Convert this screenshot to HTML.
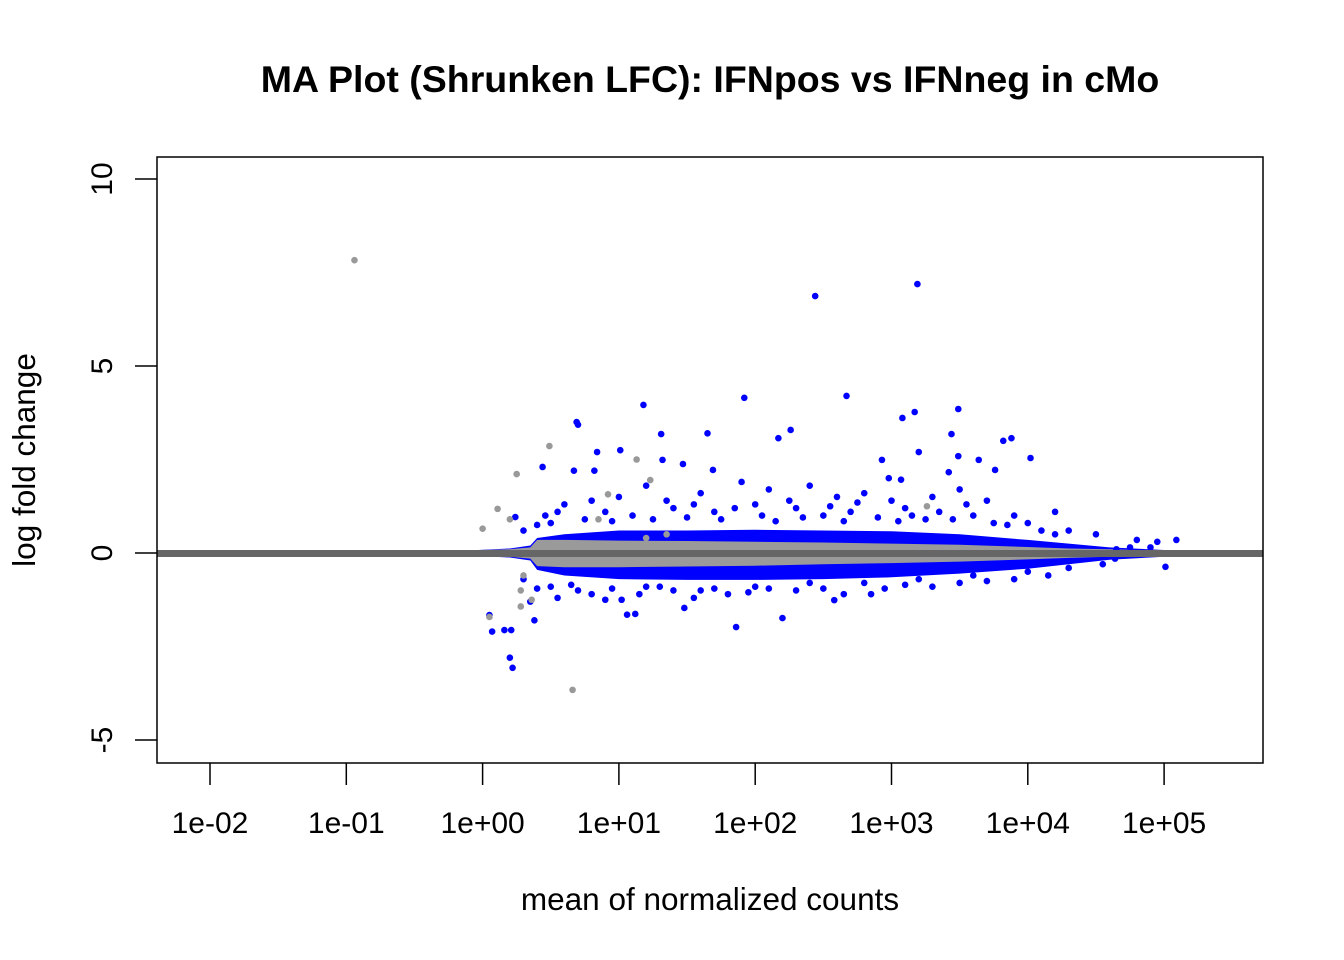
<!DOCTYPE html>
<html><head><meta charset="utf-8"><style>
html,body{margin:0;padding:0;background:#fff;}
svg{display:block;font-family:"Liberation Sans",Arial,sans-serif;}
</style></head><body>
<svg id="chart" width="1344" height="960" viewBox="0 0 1344 960" xmlns="http://www.w3.org/2000/svg">
<rect width="1344" height="960" fill="#fff"/>
<text x="710" y="92" text-anchor="middle" font-size="37.5" font-weight="bold">MA Plot (Shrunken LFC): IFNpos vs IFNneg in cMo</text>
<g id="band"></g>
<g id="points"></g>
<line x1="157" y1="553.5" x2="1263" y2="553.5" stroke="#666" stroke-width="7"/>
<rect x="157" y="157" width="1106" height="606" fill="none" stroke="#000" stroke-width="1.5"/>
<g id="xaxis"></g>
<g id="yaxis"></g>
<text x="710" y="910" text-anchor="middle" font-size="31.5">mean of normalized counts</text>
<text transform="translate(35,460) rotate(-90)" text-anchor="middle" font-size="31.5">log fold change</text>
</svg>
<script>
const xTicks = [-2,-1,0,1,2,3,4,5];
const xTickLabels = ["1e-02","1e-01","1e+00","1e+01","1e+02","1e+03","1e+04","1e+05"];
const yTicks = [-5,0,5,10];
const yTickLabels = ["-5","0","5","10"];
const bandBins = [-0.7,-0.2,0.2,0.35,0.4,0.6,1.0,1.5,2.0,2.5,3.0,3.5,4.0,4.3,4.6,5.0,5.4];
const blueUp = [0.0,0.05,0.12,0.2,0.4,0.5,0.6,0.6,0.62,0.6,0.58,0.5,0.35,0.25,0.15,0.08,0.05];
const blueLo = [0.0,-0.05,-0.12,-0.2,-0.45,-0.6,-0.7,-0.72,-0.72,-0.7,-0.65,-0.55,-0.42,-0.3,-0.18,-0.1,-0.05];
const grayUp = [0.02,0.06,0.1,0.15,0.35,0.35,0.33,0.32,0.3,0.28,0.25,0.22,0.16,0.12,0.1,0.06,0.04];
const grayLo = [-0.02,-0.06,-0.1,-0.15,-0.35,-0.38,-0.38,-0.36,-0.34,-0.3,-0.27,-0.23,-0.17,-0.13,-0.1,-0.06,-0.04];
const bluePoints = [[2.44,6.87],[3.19,7.19],[2.67,4.2],[1.92,4.15],[1.18,3.96],[0.69,3.5],[0.70,3.43],[3.49,3.85],[3.08,3.61],[3.17,3.77],[3.44,3.18],[3.88,3.07],[4.02,2.54],[3.82,3.0],[1.31,3.18],[1.65,3.2],[2.26,3.29],[2.17,3.07],[0.84,2.7],[1.01,2.75],[1.32,2.49],[1.47,2.38],[1.69,2.22],[0.44,2.3],[0.67,2.2],[0.82,2.2],[2.93,2.49],[2.98,2.0],[3.2,2.7],[3.42,2.16],[3.49,2.59],[3.64,2.49],[3.76,2.22],[3.07,1.96],[0.24,0.96],[0.46,1.0],[1.0,1.5],[1.2,1.8],[1.6,1.6],[1.9,1.9],[2.1,1.7],[2.4,1.8],[2.6,1.5],[2.8,1.6],[3.0,1.4],[3.3,1.5],[3.5,1.7],[3.7,1.4],[3.9,1.0],[4.2,1.1],[0.6,1.3],[0.8,1.4],[1.4,1.2],[1.7,1.1],[2.0,1.3],[2.3,1.2],[2.7,1.1],[3.1,1.2],[3.6,1.0],[4.0,0.8],[4.3,0.6],[4.5,0.5],[4.8,0.35],[4.95,0.3],[5.09,0.35],[4.9,0.15],[4.75,0.15],[4.65,0.1],[0.05,-1.66],[0.07,-2.1],[0.2,-2.8],[0.22,-3.07],[0.16,-2.06],[0.21,-2.06],[0.38,-1.8],[0.35,-1.3],[1.06,-1.65],[1.12,-1.63],[0.9,-1.25],[1.02,-1.25],[1.86,-1.98],[2.2,-1.74],[2.58,-1.26],[2.85,-1.1],[1.48,-1.47],[5.01,-0.37],[4.55,-0.3],[4.64,-0.15],[0.5,-0.9],[0.7,-1.0],[1.3,-0.9],[1.6,-1.0],[2.0,-0.9],[2.4,-0.8],[2.8,-0.8],[3.2,-0.7],[3.6,-0.6],[4.0,-0.5],[4.3,-0.4],
[0.3,0.6],[0.4,0.75],[0.5,0.8],[0.55,1.1],[0.75,0.9],[0.9,1.1],[0.95,0.85],[1.1,1.0],[1.25,0.9],[1.35,1.4],[1.5,0.95],[1.55,1.3],[1.75,0.9],[1.85,1.2],[2.05,1.0],[2.15,0.85],[2.25,1.4],[2.35,0.95],[2.5,1.0],[2.55,1.25],[2.65,0.85],[2.75,1.35],[2.9,0.95],[3.05,0.85],[3.15,1.0],[3.25,0.9],[3.35,1.1],[3.45,0.9],[3.55,1.3],[3.75,0.8],[3.85,0.75],[4.1,0.6],[4.2,0.5],
[0.3,-0.7],[0.4,-0.95],[0.55,-1.2],[0.65,-0.85],[0.8,-1.1],[0.95,-0.95],[1.15,-1.1],[1.2,-0.9],[1.4,-1.0],[1.55,-1.2],[1.7,-0.95],[1.8,-1.1],[1.95,-1.05],[2.1,-0.95],[2.3,-1.0],[2.5,-0.95],[2.65,-1.1],[2.95,-0.95],[3.1,-0.85],[3.3,-0.9],[3.5,-0.8],[3.7,-0.75],[3.9,-0.7],[4.15,-0.6]];
const grayPoints = [[-0.94,7.83],[0.49,2.86],[1.13,2.5],[0.25,2.11],[0.11,1.18],[0.92,1.57],[1.23,1.95],[3.26,1.25],[0.05,-1.71],[0.28,-1.43],[0.66,-3.66],[0.36,-1.25],[0.0,0.65],[0.2,0.9],[0.3,-0.6],[0.28,-1.0],[0.85,0.9],[1.2,0.4],[1.35,0.5]];

const NS='http://www.w3.org/2000/svg';
function xs(v){return 210+(v+2)*136.3;}
function ys(v){return 553-v*37.4;}
function mk(tag,attrs,parent){const e=document.createElementNS(NS,tag);for(const k in attrs)e.setAttribute(k,attrs[k]);parent.appendChild(e);return e;}

const band=document.getElementById('band');
function poly(up,lo,fill,name){
  let pts=bandBins.map((b,i)=>xs(b)+','+ys(up[i]));
  for(let i=bandBins.length-1;i>=0;i--)pts.push(xs(bandBins[i])+','+ys(lo[i]));
  const p=mk('polygon',{points:pts.join(' '),fill:fill},band);
  
  
}
poly(blueUp,blueLo,'#0000ff','blue-band');
poly(grayUp,grayLo,'#9a9a9a','gray-band');

const pg=document.getElementById('points');
bluePoints.forEach(d=>{
  const c=mk('circle',{cx:xs(d[0]),cy:ys(d[1]),r:3.3,fill:'#0000ff'},pg);
  
  
});
grayPoints.forEach(d=>{
  const c=mk('circle',{cx:xs(d[0]),cy:ys(d[1]),r:3.3,fill:'#999'},pg);
  
  
});

const xa=document.getElementById('xaxis');
xTicks.forEach((t,i)=>{
  const l=mk('line',{x1:xs(t),y1:763,x2:xs(t),y2:785,stroke:'#000','stroke-width':1.5},xa);
  
  
  const tx=mk('text',{x:xs(t),y:833,'text-anchor':'middle','font-size':30},xa);
  tx.textContent=xTickLabels[i];
  
  
});
const ya=document.getElementById('yaxis');
yTicks.forEach((t,i)=>{
  const l=mk('line',{x1:135,y1:ys(t),x2:157,y2:ys(t),stroke:'#000','stroke-width':1.5},ya);
  
  
  const tx=mk('text',{transform:'translate(112,'+ys(t)+') rotate(-90)','text-anchor':'middle','font-size':30},ya);
  tx.textContent=yTickLabels[i];
  
  
});
</script>
</body></html>
